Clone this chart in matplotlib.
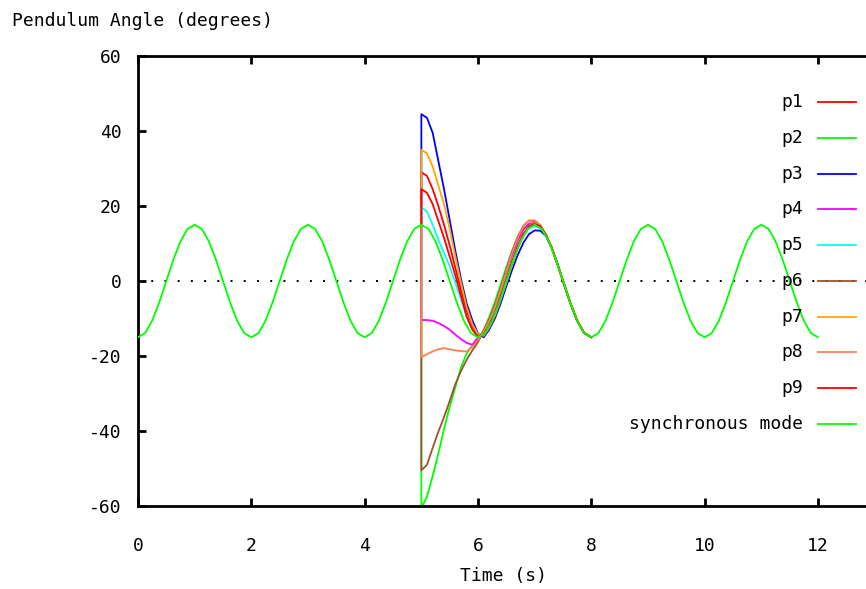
import matplotlib
matplotlib.use('Agg')
import matplotlib.pyplot as plt

plt.rcParams['font.family'] = 'DejaVu Sans Mono'
plt.rcParams['font.size'] = 13
plt.rcParams['axes.unicode_minus'] = False

W, H = 866, 589

# synchronous mode, sampled every 0.125 s from 0 to 12 s
sync_t = [i * 0.125 for i in range(97)]
sync_deg = [
    -15, -13.9, -10.6, -5.7, 0, 5.7, 10.6, 13.9, 15, 13.9, 10.6, 5.7, 0, -5.7, -10.6, -13.9,
    -15, -13.9, -10.6, -5.7, 0, 5.7, 10.6, 13.9, 15, 13.9, 10.6, 5.7, 0, -5.7, -10.6, -13.9,
    -15, -13.9, -10.6, -5.7, 0, 5.7, 10.6, 13.9, 15, 13.9, 10.6, 5.7, 0, -5.7, -10.6, -13.9,
    -15, -13.9, -10.6, -5.7, 0, 5.7, 10.6, 13.9, 15, 13.9, 10.6, 5.7, 0, -5.7, -10.6, -13.9,
    -15, -13.9, -10.6, -5.7, 0, 5.7, 10.6, 13.9, 15, 13.9, 10.6, 5.7, 0, -5.7, -10.6, -13.9,
    -15, -13.9, -10.6, -5.7, 0, 5.7, 10.6, 13.9, 15, 13.9, 10.6, 5.7, 0, -5.7, -10.6, -13.9,
    -15,
]

# pendulums after the kick at t = 5 s (first point is the value just before it)
p_t = [5.0, 5.0, 5.1, 5.2, 5.3, 5.4, 5.5, 5.6, 5.7, 5.8, 5.9, 6.0, 6.1, 6.2, 6.3,
       6.4, 6.5, 6.6, 6.7, 6.8, 6.9, 7.0, 7.1, 7.2, 7.3, 7.4, 7.5, 7.625, 7.75, 7.875, 8.0]

p1 = [15, 29, 28, 24.5, 20, 15, 9.5, 3.5, -2.5, -8, -12, -14.8, -14.5, -12.1, -8.8,
      -4.6, 0, 4.6, 8.8, 12.1, 14.3, 15, 14.3, 12.1, 8.8, 4.6, 0, -5.7, -10.6, -13.9, -15]
p2 = [15, -60.5, -57.5, -52, -46, -39.5, -33.5, -28.3, -23, -19.3, -17.2, -15.5, -13, -9.5, -5.5,
      -0.9, 3.7, 8.0, 11.6, 14.0, 15.0, 14.8, 14.2, 12.1, 8.8, 4.6, 0, -5.7, -10.6, -13.9, -15]
p3 = [15, 44.5, 43.5, 39.5, 32, 24.5, 16.3, 8, 0.5, -6, -10.5, -14, -15, -12.9, -9.9,
      -5.9, -1.4, 2.9, 6.9, 10.2, 12.5, 13.5, 13.4, 12.0, 8.8, 4.6, 0, -5.7, -10.6, -13.9, -15]
p4 = [15, -10.4, -10.4, -10.6, -11.2, -12, -13, -14.3, -15.5, -16.5, -17, -15, -13.6, -10.9, -7.2,
      -2.8, 1.9, 6.7, 10.7, 13.7, 15.3, 15.5, 14.6, 12.2, 8.9, 4.6, 0, -5.7, -10.6, -13.9, -15]
p5 = [15, 19.7, 18.5, 15, 11, 7.5, 4, -0.5, -5, -9.5, -13, -14.8, -14.0, -11.6, -8.0,
      -3.7, 0.9, 5.3, 9.2, 12.3, 14.1, 14.6, 14.2, 12.1, 8.8, 4.6, 0, -5.7, -10.6, -13.9, -15]
p6 = [15, -50.5, -49, -44.5, -40.2, -36.3, -32, -27.5, -24, -21, -18.5, -16.3, -13.2, -10.1, -6.3,
      -1.8, 3.0, 7.8, 11.8, 14.7, 16.1, 16.0, 14.8, 12.3, 8.9, 4.6, 0, -5.7, -10.6, -13.9, -15]
p7 = [15, 35, 34, 30.5, 25.5, 20.5, 14, 6.5, -0.5, -7, -11.5, -14.2, -14.6, -12.4, -9.2,
      -5.0, -0.5, 4.3, 8.6, 12.1, 14.5, 15.4, 14.7, 12.3, 8.9, 4.6, 0, -5.7, -10.6, -13.9, -15]
p8 = [15, -20.3, -19.5, -18.8, -18.2, -17.9, -18.2, -18.5, -18.7, -18.8, -17.5, -15.7, -13.4, -10.6, -6.8,
      -2.3, 2.5, 7.4, 11.5, 14.6, 16.1, 16.2, 14.9, 12.3, 8.9, 4.6, 0, -5.7, -10.6, -13.9, -15]
p9 = [15, 24.5, 23.5, 20.5, 16, 11.5, 6.5, 1.5, -4, -9.5, -13, -14.8, -14.2, -11.8, -8.4,
      -4.1, 0.5, 5.1, 9.3, 12.6, 14.6, 15.2, 14.6, 12.3, 8.9, 4.6, 0, -5.7, -10.6, -13.9, -15]

labels = ['p1', 'p2', 'p3', 'p4', 'p5', 'p6', 'p7', 'p8', 'p9', 'synchronous mode']
colours = ['#ff0000', '#00ff00', '#0000ff', '#ff00ff', '#00ffff',
           '#a0522d', '#ffa500', '#ff7f50', '#ff0000', '#00ff00']

xticks = [0, 2, 4, 6, 8, 10, 12]
yticks = [-60, -40, -20, 0, 20, 40, 60]

#%%

fig = plt.figure(figsize=(W / 100, H / 100), dpi=100)
# axes run off the right edge of the image (x range 0..13)
ax = fig.add_axes([138 / W, 83 / H, 736.7 / W, 450 / H])

ax.axhline(0, color='black', lw=1.4, linestyle=(0, (1, 5.8)), zorder=1)

series = [p1, p2, p3, p4, p5, p6, p7, p8, p9]
for vals, col in zip(series, colours[:9]):
    ax.plot(p_t, vals, color=col, lw=1.3, zorder=2)
ax.plot(sync_t, sync_deg, color=colours[9], lw=1.3, zorder=3)

ax.set_xlim(0, 13)
ax.set_ylim(-60, 60)
ax.set_xticks(xticks)
ax.set_yticks(yticks)
ax.tick_params(direction='in', length=6, width=2, top=True, right=True)
ax.tick_params(axis='x', pad=22)
ax.tick_params(axis='y', pad=12)
for s in ax.spines.values():
    s.set_linewidth(2)

fig.text(12 / W, 1 - 20.5 / H, 'Pendulum Angle (degrees)', ha='left', va='center')
fig.text(503 / W, 1 - 576 / H, 'Time (s)', ha='center', va='center')

# key, right-aligned text with a short line sample
for i, (lab, col) in enumerate(zip(labels, colours)):
    y = 1 - (102.3 + i * 35.7) / H
    fig.text(803 / W, y, lab, ha='right', va='center', zorder=5)
    fig.add_artist(plt.Line2D([818 / W, 856 / W], [y, y], color=col, lw=1.3,
                              transform=fig.transFigure))

fig.savefig('out.png', dpi=100)
